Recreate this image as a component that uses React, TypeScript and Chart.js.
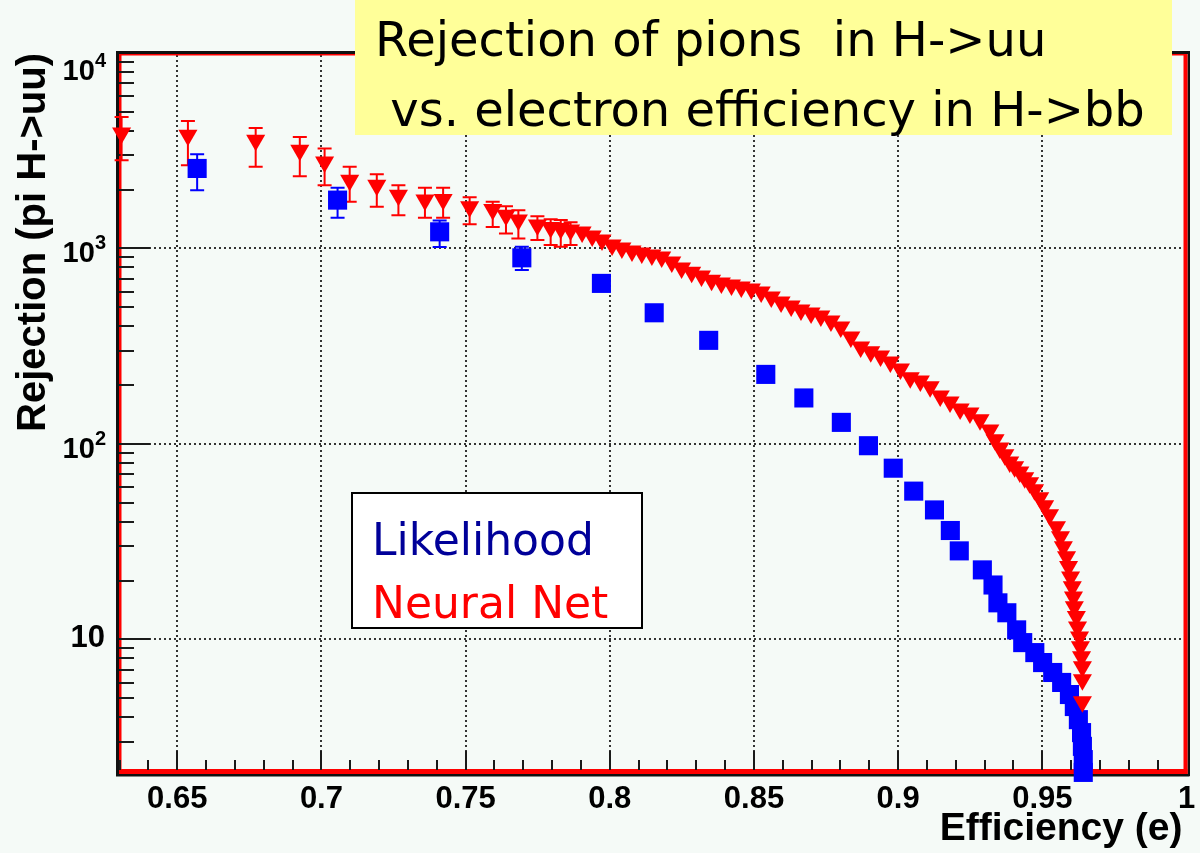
import React, { useEffect, useRef } from "react";
import { Chart, registerables } from "chart.js";

Chart.register(...registerables);

// ---------------- data ----------------
const likelihoodEff = [
  0.6569, 0.7056, 0.741, 0.7695, 0.7971, 0.8154, 0.8343, 0.8541, 0.8673, 0.8803,
  0.8897, 0.8983, 0.9054, 0.9126, 0.9181, 0.9212, 0.9292, 0.9329, 0.9346, 0.9377,
  0.9411, 0.9432, 0.9474, 0.9501, 0.9536, 0.9567, 0.9594, 0.9611, 0.9625, 0.9636,
  0.9639, 0.9642, 0.9642,
];
const likelihoodRej = [
  2567, 1768, 1217, 896, 663, 469, 339, 227, 172, 129,
  98, 75.2, 57.4, 46.0, 36.1, 28.4, 22.7, 19.0, 15.4, 13.7,
  11.2, 9.64, 8.57, 7.62, 6.78, 6.03, 5.23, 4.54, 3.89, 3.34,
  2.84, 2.43, 2.09,
];
// error-bar bounds for the first likelihood points
const likelihoodRejHi = [3036, 2043, 1390, 1020];
const likelihoodRejLo = [1988, 1435, 1017, 776];

const nnEff = [
  0.6307, 0.6537, 0.6772, 0.6925, 0.7011, 0.7098, 0.7192, 0.7267, 0.7359, 0.7422,
  0.7514, 0.7594, 0.764, 0.7683, 0.7749, 0.7795, 0.783, 0.7864,
  0.7904, 0.7939, 0.7973, 0.8008, 0.8042, 0.8077, 0.8111, 0.8146, 0.818, 0.8215,
  0.8249, 0.8284, 0.8318, 0.8353, 0.8387, 0.8422, 0.8456, 0.8491, 0.8525, 0.856,
  0.8594, 0.8629, 0.8663, 0.8698, 0.8732, 0.8767, 0.8801, 0.8836, 0.887, 0.8905,
  0.8939, 0.8973, 0.9008, 0.9042, 0.9077, 0.9111, 0.9146, 0.918, 0.9215, 0.9249,
  0.9284, 0.9318, 0.9336, 0.9353, 0.937, 0.9387, 0.9404, 0.9422, 0.9439, 0.9456,
  0.9473, 0.9491, 0.9508, 0.9525, 0.9549, 0.9563, 0.9573, 0.9584, 0.9591, 0.9598,
  0.9604, 0.9608, 0.9611, 0.9618, 0.9622, 0.9629, 0.9632, 0.9636, 0.9639, 0.9639,
  0.9639,
];
const nnRej = [
  3892, 3798, 3580, 3183, 2773, 2236, 2109, 1875, 1768, 1782,
  1634, 1584, 1481, 1397, 1317, 1282, 1267, 1242,
  1213, 1157, 1104, 1041, 1005, 970, 947, 925, 904, 852,
  794, 757, 723, 689, 666, 650, 635, 620, 599, 565,
  532, 508, 484, 468, 451, 426, 397, 353, 313, 296,
  282, 263, 242, 218, 210, 196, 176, 164, 151, 144,
  133, 118, 105, 95.5, 88.0, 81.0, 76.4, 72.0, 67.1, 63.3,
  58.3, 53.1, 48.3, 43.4, 37.7, 33.5, 29.8, 26.5, 23.6, 20.9,
  18.6, 16.5, 14.7, 13.1, 11.6, 10.3, 9.19, 8.17, 7.26, 6.23,
  4.81,
];
// error-bar bounds for the first (sparse) neural-net points
const nnRejHi = [4710, 4493, 4139, 3722, 3247, 2616, 2400, 2109, 2043, 2043, 1830, 1732, 1647, 1571, 1464, 1413, 1397, 1364];
const nnRejLo = [2829, 2669, 2616, 2344, 2109, 1732, 1634, 1481, 1435, 1435, 1332, 1290, 1194, 1126, 1104, 1041, 1020, 1041];

const xTickValues = [0.65, 0.7, 0.75, 0.8, 0.85, 0.9, 0.95, 1];
const xTickLabels = ["0.65", "0.7", "0.75", "0.8", "0.85", "0.9", "0.95", "1"];
const yTickValues = [10, 100, 1000, 10000];
const yTickBase = ["10", "10", "10", "10"];
const yTickExp = ["", "2", "3", "4"];

const X_MIN = 0.6298;
const X_MAX = 1.0;
const Y_MIN = 2.1;
const Y_MAX = 10000;

const xTitle = "Efficiency (e)";
const yTitle = "Rejection (pi H->uu)";
const titleLines = ["Rejection of pions  in H->uu", " vs. electron efficiency in H->bb"];
const legendLabels = ["Likelihood", "Neural Net"];

// ---------------- styles ----------------
const BG = "#f5faf7";
const SANS = '"Liberation Sans", Arial, sans-serif';
const HAND = '"DejaVu Sans", sans-serif';
const RED = "#ff0000";
const BLUE = "#0000ff";
const INK = "#1a1a1a";

function drawErrorBars(ctx: CanvasRenderingContext2D, chart: any, effs: number[], hi: number[], lo: number[], color: string) {
  const xs = chart.scales.x;
  const ys = chart.scales.y;
  ctx.save();
  ctx.strokeStyle = color;
  ctx.lineWidth = 2;
  ctx.setLineDash([]);
  for (let i = 0; i < hi.length; i++) {
    const px = xs.getPixelForValue(effs[i]);
    const pHi = ys.getPixelForValue(hi[i]);
    const pLo = ys.getPixelForValue(lo[i]);
    ctx.beginPath();
    ctx.moveTo(px, pHi);
    ctx.lineTo(px, pLo);
    ctx.moveTo(px - 7, pHi);
    ctx.lineTo(px + 7, pHi);
    ctx.moveTo(px - 7, pLo);
    ctx.lineTo(px + 7, pLo);
    ctx.stroke();
  }
  ctx.restore();
}

const rootPlugin = {
  id: "rootStyle",
  beforeDraw(chart: any) {
    const ctx = chart.ctx;
    ctx.save();
    ctx.fillStyle = BG;
    ctx.fillRect(0, 0, chart.width, chart.height);
    ctx.restore();
  },
  beforeDatasetsDraw(chart: any) {
    const ctx: CanvasRenderingContext2D = chart.ctx;
    const ca = chart.chartArea;
    const xs = chart.scales.x;
    const ys = chart.scales.y;
    ctx.save();

    // dotted grid
    ctx.strokeStyle = "#333";
    ctx.lineWidth = 2;
    ctx.setLineDash([2, 3]);
    xTickValues.forEach((v) => {
      if (v <= X_MIN || v >= X_MAX) return;
      const px = Math.round(xs.getPixelForValue(v));
      ctx.beginPath();
      ctx.moveTo(px, ca.bottom);
      ctx.lineTo(px, ca.top);
      ctx.stroke();
    });
    yTickValues.forEach((v) => {
      if (v <= Y_MIN || v >= Y_MAX) return;
      const py = Math.round(ys.getPixelForValue(v));
      ctx.beginPath();
      ctx.moveTo(ca.left, py);
      ctx.lineTo(ca.right, py);
      ctx.stroke();
    });
    ctx.setLineDash([]);

    // frame: black outline with red inner line
    ctx.fillStyle = "#111";
    ctx.fillRect(ca.left - 3, ca.top - 2, ca.right - ca.left + 6, 3);
    ctx.fillRect(ca.left - 3, ca.top - 2, 3, ca.bottom - ca.top + 6);
    ctx.fillRect(ca.left - 3, ca.bottom + 2, ca.right - ca.left + 6, 2.5);
    ctx.fillRect(ca.right + 1, ca.top - 2, 2.5, ca.bottom - ca.top + 6);
    ctx.fillStyle = RED;
    ctx.fillRect(ca.left, ca.top + 1, ca.right - ca.left, 1.5);
    ctx.fillRect(ca.left, ca.top + 1, 2.5, ca.bottom - ca.top + 1);
    ctx.fillRect(ca.left, ca.bottom - 3, ca.right - ca.left + 1, 5);
    ctx.fillRect(ca.right - 3, ca.top + 1, 4, ca.bottom - ca.top + 1);

    // tick marks (inside)
    ctx.strokeStyle = INK;
    ctx.lineWidth = 2;
    ctx.beginPath();
    for (let k = Math.ceil(X_MIN * 100 + 1e-6); k <= Math.floor(X_MAX * 100 - 1e-6); k++) {
      const px = Math.round(xs.getPixelForValue(k / 100));
      const len = k % 5 === 0 ? 19 : 10;
      ctx.moveTo(px, ca.bottom - 2);
      ctx.lineTo(px, ca.bottom - 2 - len);
    }
    for (let d = 1; d < Y_MAX; d *= 10) {
      for (let m = 1; m <= 9; m++) {
        const v = m * d;
        if (v <= Y_MIN || v >= Y_MAX) continue;
        const py = Math.round(ys.getPixelForValue(v));
        const len = m === 1 ? 31 : 15;
        ctx.moveTo(ca.left, py);
        ctx.lineTo(ca.left + len, py);
      }
    }
    ctx.stroke();

    // x tick labels
    ctx.fillStyle = "#000";
    ctx.font = `bold 31px ${SANS}`;
    ctx.textAlign = "center";
    ctx.textBaseline = "alphabetic";
    xTickValues.forEach((v, i) => {
      ctx.fillText(xTickLabels[i], xs.getPixelForValue(v), ca.bottom + 36);
    });

    // y tick labels (10, 10^2 ...)
    const right = ca.left - 14;
    yTickValues.forEach((v, i) => {
      const py = ys.getPixelForValue(v);
      const exp = yTickExp[i];
      if (!exp) {
        ctx.font = `bold 31px ${SANS}`;
        ctx.textAlign = "right";
        ctx.textBaseline = "middle";
        ctx.fillText(yTickBase[i], right, py - 1);
      } else {
        ctx.font = `bold 20px ${SANS}`;
        const ew = ctx.measureText(exp).width;
        const cy = py < ca.top + 5 ? py + 19 : py + 6;
        ctx.textAlign = "right";
        ctx.textBaseline = "alphabetic";
        ctx.fillText(exp, right + 1, cy - 5);
        ctx.font = `bold 29px ${SANS}`;
        ctx.textBaseline = "middle";
        ctx.fillText(yTickBase[i], right - ew + 1, cy);
      }
    });

    // axis titles
    ctx.font = `bold 39px ${SANS}`;
    ctx.textAlign = "right";
    ctx.textBaseline = "alphabetic";
    ctx.fillText(xTitle, ca.right - 4, 840);

    ctx.save();
    ctx.translate(45, ca.top);
    ctx.rotate(-Math.PI / 2);
    ctx.font = `bold 40px ${SANS}`;
    ctx.textAlign = "right";
    ctx.fillText(yTitle, 0, 0);
    ctx.restore();

    // error bars
    drawErrorBars(ctx, chart, likelihoodEff, likelihoodRejHi, likelihoodRejLo, BLUE);
    drawErrorBars(ctx, chart, nnEff, nnRejHi, nnRejLo, RED);

    ctx.restore();
  },
  afterDatasetsDraw(chart: any) {
    const ctx: CanvasRenderingContext2D = chart.ctx;
    ctx.save();
    // title box
    ctx.fillStyle = "#ffff99";
    ctx.fillRect(355, 0, 817, 135);
    ctx.fillStyle = "#000";
    ctx.font = `48px ${HAND}`;
    ctx.textAlign = "left";
    ctx.textBaseline = "alphabetic";
    ctx.fillText(titleLines[0], 375, 56);
    ctx.fillText(titleLines[1], 375, 126);

    // legend box
    ctx.fillStyle = "#ffffff";
    ctx.fillRect(352, 493, 290, 135);
    ctx.strokeStyle = "#000";
    ctx.lineWidth = 2;
    ctx.strokeRect(352, 493, 290, 135);
    ctx.font = `44px ${HAND}`;
    ctx.fillStyle = "#000099";
    ctx.fillText(legendLabels[0], 372, 555);
    ctx.fillStyle = RED;
    ctx.fillText(legendLabels[1], 372, 618);
    ctx.restore();
  },
};

export default function App() {
  const ref = useRef<HTMLCanvasElement>(null);

  useEffect(() => {
    const canvas = ref.current;
    if (!canvas) return;
    const chart = new Chart(canvas, {
      type: "scatter",
      data: {
        datasets: [
          {
            label: legendLabels[1],
            data: nnEff.map((x, i) => ({ x, y: nnRej[i] })),
            pointStyle: "triangle",
            pointRotation: 180,
            pointRadius: 11,
            pointHoverRadius: 11,
            backgroundColor: RED,
            borderColor: RED,
            borderWidth: 0,
            showLine: false,
            clip: false,
          } as any,
          {
            label: legendLabels[0],
            data: likelihoodEff.map((x, i) => ({ x, y: likelihoodRej[i] })),
            pointStyle: "rect",
            pointRadius: 13.5,
            pointHoverRadius: 13.5,
            backgroundColor: BLUE,
            borderColor: BLUE,
            borderWidth: 0,
            showLine: false,
            clip: false,
          } as any,
        ],
      },
      options: {
        animation: false,
        responsive: false,
        devicePixelRatio: 1,
        events: [],
        layout: { padding: { top: 53, right: 8, left: 0, bottom: 0 } },
        plugins: {
          legend: { display: false },
          tooltip: { enabled: false },
          title: { display: false },
        },
        scales: {
          x: {
            type: "linear",
            min: X_MIN,
            max: X_MAX,
            grid: { display: false },
            border: { display: false },
            ticks: { display: false },
            afterFit: (s: any) => {
              s.height = 81;
            },
          },
          y: {
            type: "logarithmic",
            min: Y_MIN,
            max: Y_MAX,
            grid: { display: false },
            border: { display: false },
            ticks: { display: false },
            afterFit: (s: any) => {
              s.width = 119;
            },
          },
        },
      } as any,
      plugins: [rootPlugin],
    });
    return () => chart.destroy();
  }, []);

  return (
    <div style={{ position: "absolute", left: 0, top: 0, width: 1200, height: 853, background: BG }}>
      <canvas ref={ref} width={1200} height={853} style={{ display: "block", width: 1200, height: 853 }} />
    </div>
  );
}
